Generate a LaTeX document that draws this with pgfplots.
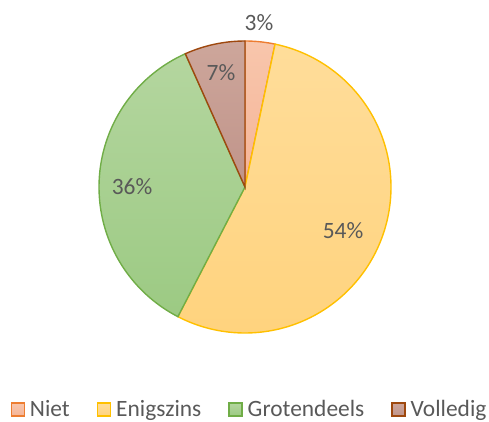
\documentclass[border=0pt]{standalone}
\usepackage{pgfplots}
\pgfplotsset{compat=1.18}
\usepackage{fontspec}
\setmainfont{Carlito}
\definecolor{txt}{HTML}{595959}
\definecolor{nietB}{HTML}{ED7D31}
\definecolor{nietT}{HTML}{F8C6AC}
\definecolor{nietL}{HTML}{F5B497}
\definecolor{enigB}{HTML}{FFC000}
\definecolor{enigT}{HTML}{FFDD9A}
\definecolor{enigL}{HTML}{FFD37E}
\definecolor{grotB}{HTML}{70AD47}
\definecolor{grotT}{HTML}{B4D69F}
\definecolor{grotL}{HTML}{9CCA83}
\definecolor{volB}{HTML}{9E480E}
\definecolor{volT}{HTML}{CDA69B}
\definecolor{volL}{HTML}{C0948A}
% percentages (Niet, Enigszins, Grotendeels, Volledig)
\def\vA{3.3}
\def\vB{54.3}
\def\vC{35.7}
\def\vD{6.7}
\def\R{146}
\begin{document}
\begin{tikzpicture}
\pgfmathsetmacro{\aA}{90}
\pgfmathsetmacro{\aB}{\aA-3.6*\vA}
\pgfmathsetmacro{\aC}{\aB-3.6*\vB}
\pgfmathsetmacro{\aD}{\aC-3.6*\vC}
\pgfmathsetmacro{\aE}{\aD-3.6*\vD}
\begin{axis}[
  name=ax,
  x=1bp, y=1bp,
  xmin=-245, xmax=244, ymin=-234, ymax=187,
  hide axis, clip=false,
  font=\fontsize{23.5}{28}\selectfont,
  legend columns=4,
  legend style={draw=none, fill=none, at={(axis cs:4,-222)}, anchor=center,
    text=txt, inner sep=0pt,
    nodes={inner sep=1pt},
    /tikz/every odd column/.append style={column sep=4bp},
    /tikz/every even column/.append style={column sep=26bp}},
  legend image code/.code={\draw[#1,line width=1.4pt] (0bp,-7bp) rectangle (13bp,6bp);},
]
\addplot[draw=nietB, line width=1.4pt, top color=nietT, bottom color=nietL, domain=\aB:\aA, samples=20, variable=\t]
  ({\R*cos(\t)},{\R*sin(\t)}) -- (0,0) -- cycle;
\addlegendentry{Niet}
\addplot[draw=enigB, line width=1.4pt, top color=enigT, bottom color=enigL, domain=\aC:\aB, samples=120, variable=\t]
  ({\R*cos(\t)},{\R*sin(\t)}) -- (0,0) -- cycle;
\addlegendentry{Enigszins}
\addplot[draw=grotB, line width=1.4pt, top color=grotT, bottom color=grotL, domain=\aD:\aC, samples=90, variable=\t]
  ({\R*cos(\t)},{\R*sin(\t)}) -- (0,0) -- cycle;
\addlegendentry{Grotendeels}
\addplot[draw=volB, line width=1.4pt, top color=volT, bottom color=volL, domain=\aE:\aD, samples=20, variable=\t]
  ({\R*cos(\t)},{\R*sin(\t)}) -- (0,0) -- cycle;
\addlegendentry{Volledig}
\node[text=txt] at (axis cs:14,164) {3\%};
\node[text=txt] at (axis cs:98,-44) {54\%};
\node[text=txt] at (axis cs:-113,0) {36\%};
\node[text=txt] at (axis cs:-24,114) {7\%};
\end{axis}
\pgfresetboundingbox
\path[use as bounding box] (ax.south west) rectangle (ax.north east);
\end{tikzpicture}
\end{document}
